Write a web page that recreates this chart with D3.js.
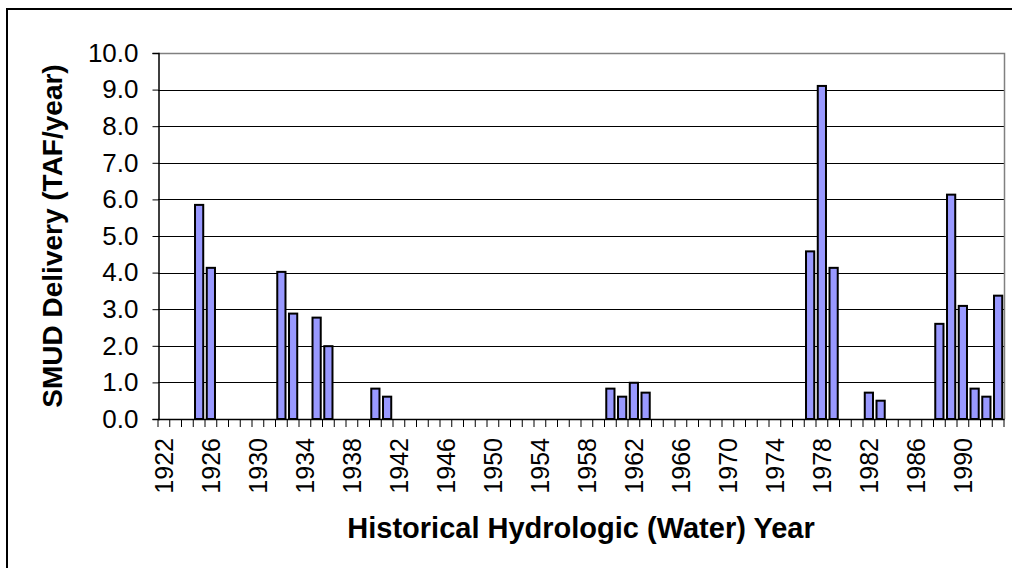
<!DOCTYPE html>
<html>
<head>
<meta charset="utf-8">
<script src="https://cdn.jsdelivr.net/npm/d3@7/dist/d3.min.js"></script>
<style>
  html, body { margin: 0; padding: 0; background: #fff; }
  svg text { font-family: "Liberation Sans", Arial, sans-serif; fill: #000; }
</style>
</head>
<body>
<svg id="chart" width="1012" height="568"></svg>
<script>
// ---- Data ----
const years = d3.range(1922, 1994);               // 1922 .. 1993 water years
const deliveryYears = [1925, 1926, 1932, 1933, 1935, 1936, 1940, 1941,
                       1960, 1961, 1962, 1963, 1977, 1978, 1979, 1982, 1983,
                       1988, 1989, 1990, 1991, 1992, 1993];
const deliveryValues = [5.85, 4.13, 4.02, 2.88, 2.77, 1.99, 0.83, 0.61,
                        0.83, 0.61, 0.99, 0.72, 4.58, 9.10, 4.13, 0.72, 0.50,
                        2.60, 6.13, 3.09, 0.83, 0.61, 3.37];
const yTicks = [0, 1, 2, 3, 4, 5, 6, 7, 8, 9, 10];
const xLabelYears = d3.range(1922, 1994, 4);
const yTitle = "SMUD Delivery (TAF/year)";
const xTitle = "Historical Hydrologic (Water) Year";

const valueByYear = new Map(deliveryYears.map((y, i) => [y, deliveryValues[i]]));
const data = years.map(y => ({ year: y, value: valueByYear.get(y) || 0 }));

// ---- Layout ----
const svg = d3.select("#chart");
const plot = { left: 158, right: 1004, top: 53, bottom: 419 };

// outer chart frame
svg.append("rect")
  .attr("x", 7).attr("y", 9)
  .attr("width", 1100).attr("height", 700)
  .attr("fill", "#fff").attr("stroke", "#000").attr("stroke-width", 2);

const x = d3.scaleBand().domain(years).range([plot.left, plot.right]).paddingInner(0.3).paddingOuter(0.15);
const xEdge = d3.scaleBand().domain(years).range([plot.left, plot.right]).padding(0);
const y = d3.scaleLinear().domain([0, 10]).range([plot.bottom, plot.top]);

// gridlines
svg.append("g")
  .selectAll("line").data(yTicks.filter(t => t > 0 && t < 10)).join("line")
  .attr("x1", plot.left).attr("x2", plot.right)
  .attr("y1", d => Math.round(y(d)) + 0.5).attr("y2", d => Math.round(y(d)) + 0.5)
  .attr("stroke", "#000").attr("stroke-width", 1);

// plot area border (top/right) in gray
svg.append("path")
  .attr("d", `M${plot.left},${plot.top + 0.5}H${plot.right + 0.5}V${plot.bottom}`)
  .attr("fill", "none").attr("stroke", "#808080").attr("stroke-width", 1.5);

// bars
svg.append("g")
  .selectAll("rect").data(data.filter(d => d.value > 0)).join("rect")
  .attr("x", d => x(d.year))
  .attr("width", x.bandwidth())
  .attr("y", d => y(d.value))
  .attr("height", d => y(0) - y(d.value))
  .attr("fill", "#9999FF").attr("stroke", "#000").attr("stroke-width", 2);

// y axis
const yAxis = d3.axisLeft(y).tickValues(yTicks).tickSize(6).tickPadding(14)
  .tickFormat(d3.format(".1f"));
const gy = svg.append("g").attr("transform", `translate(${plot.left + 0.5},0)`).call(yAxis);
gy.select(".domain").attr("stroke", "#000").attr("stroke-width", 1.5);
gy.selectAll(".tick line").attr("stroke", "#000");
gy.selectAll(".tick text").style("font-size", "26px").attr("font-family", null);

// x axis: tick marks at category boundaries
const gx = svg.append("g");
gx.append("line")
  .attr("x1", plot.left).attr("x2", plot.right + 0.5)
  .attr("y1", plot.bottom + 0.5).attr("y2", plot.bottom + 0.5)
  .attr("stroke", "#000").attr("stroke-width", 1.5);
gx.selectAll("line.tk").data(years.concat([1994])).join("line").attr("class", "tk")
  .attr("x1", d => d === 1994 ? plot.right : xEdge(d))
  .attr("x2", d => d === 1994 ? plot.right : xEdge(d))
  .attr("y1", plot.bottom).attr("y2", plot.bottom + 8)
  .attr("stroke", "#000").attr("stroke-width", 1);
gx.selectAll("text").data(xLabelYears).join("text")
  .attr("transform", d => `translate(${xEdge(d) + xEdge.bandwidth() / 2},438) rotate(-90)`)
  .attr("text-anchor", "end").attr("dy", "0.36em")
  .style("font-size", "25px")
  .text(d => d);

// axis titles
svg.append("text")
  .attr("transform", `translate(62,${(plot.top + plot.bottom) / 2}) rotate(-90)`)
  .attr("text-anchor", "middle")
  .style("font-size", "28px").style("font-weight", "bold")
  .text(yTitle);
svg.append("text")
  .attr("x", (plot.left + plot.right) / 2).attr("y", 538)
  .attr("text-anchor", "middle")
  .style("font-size", "29px").style("font-weight", "bold")
  .text(xTitle);
</script>
</body>
</html>
